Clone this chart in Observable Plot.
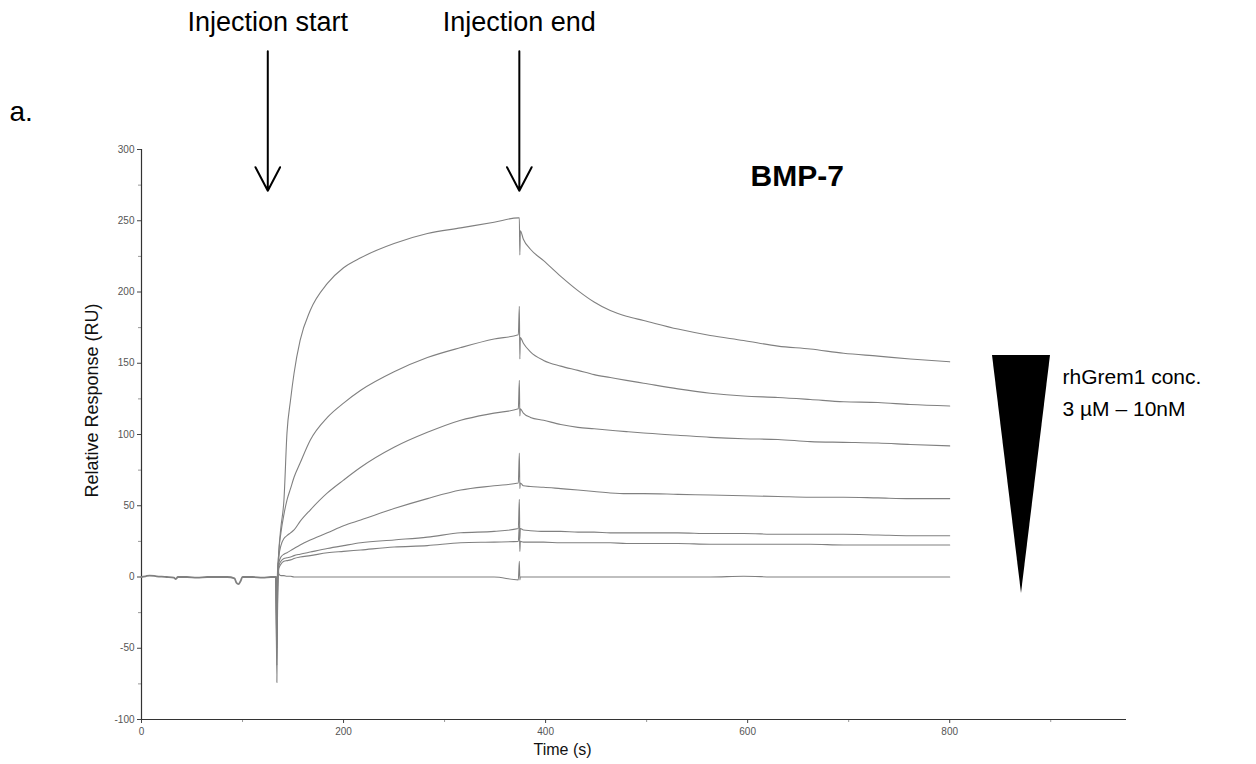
<!DOCTYPE html>
<html>
<head>
<meta charset="utf-8">
<script src="https://cdn.jsdelivr.net/npm/d3@7"></script>
<script src="https://cdn.jsdelivr.net/npm/@observablehq/plot@0.6"></script>
<style>
  body { margin: 0; background: #fff; }
  #chart { width: 1256px; height: 764px; }
</style>
</head>
<body>
<div id="chart"></div>
<script>
// ---------- data ----------
const xTicks = [0, 200, 400, 600, 800];
const xMinorTicks = [100, 300, 500, 700, 900];
const yTicks = [-100, -50, 0, 50, 100, 150, 200, 250, 300];
const yMinorTicks = [-75, -25, 25, 75, 125, 175, 225, 275];

// shared pre-injection baseline (all sensorgrams overlap here)
const baselineTime = [0, 4, 8, 15, 25, 32, 34, 36, 45, 55, 65, 75, 85, 92, 94, 96, 98, 100, 110, 120, 128, 133];
const baselineResponse = [0, 0.5, 1, 0.5, 0, -0.5, -1.5, 0, 0, -0.5, 0, 0, 0, -1, -4, -5, -3, 0, 0, -0.5, 0, 0];

// association phase (injection)
const associationTime = [133, 134, 135, 136, 138, 141, 144, 147.5, 151, 157, 167, 184, 200, 217, 250, 283, 316, 349, 373];
const assoc3uM  = [0, -74, 5, 19, 35, 54, 101, 124, 143, 166, 187, 206, 217, 224, 234, 241, 245, 249, 252];
const assocC2   = [0, -62, 3, 18, 31, 44, 54, 62, 70, 80, 96, 112, 122, 131, 144, 154, 161, 167, 170];
const assocC3   = [0, -50, 2, 14, 22, 27, 29, 31, 33, 39, 47, 59, 68, 77, 91, 101.5, 110, 115, 118];
const assocC4   = [0, -37, 1, 10, 14, 16, 17, 18.5, 20, 22.5, 26, 31, 36, 40, 48, 55, 61, 64, 66];
const assocC5   = [0, -25, 0, 8, 11, 13, 13.5, 14, 15, 16, 17.5, 20, 22, 24, 26, 28, 31, 32, 34];
const assocC6   = [0, -15, 0, 6, 9, 11, 11.5, 12, 13, 14, 15, 17, 18, 19, 21, 22, 24, 24.5, 25];
const assoc10nM = [0, -8, 10, 2, 1, 1, 0.5, 0.5, 0, 0, 0, 0, 0, 0, 0, 0, 0, 0, -2];

// dissociation phase (after injection end)
const dissociationTime = [374, 374.5, 375, 378, 385, 398, 415, 432, 448, 464, 480, 497, 531, 563, 596, 630, 662, 695, 729, 761, 800];
const dissoc3uM  = [252, 226, 243, 237, 230, 222, 211, 201, 193, 187, 183, 180, 174, 169.5, 166, 162, 160, 157, 155, 153, 151];
const dissocC2   = [190, 153, 168, 164, 158, 152, 148, 145, 142, 140, 138, 136, 132, 129, 127, 126, 124.6, 123, 122.5, 121, 120];
const dissocC3   = [138, 113, 118, 115, 112, 110, 107, 105, 104, 103, 102, 101, 99.5, 98, 97, 96.5, 95, 94.5, 94, 93, 92];
const dissocC4   = [87, 62, 66, 64, 63.5, 63, 62, 61, 60, 59, 58.5, 58.5, 58, 57.5, 57, 56.5, 56, 56, 55.5, 55, 55];
const dissocC5   = [54.5, 27, 34, 33, 32.5, 32, 32, 31.5, 31.5, 31, 31, 31, 31, 30.5, 30.5, 30, 30, 30, 29.5, 29, 29];
const dissocC6   = [36, 18, 25, 24.5, 24.5, 24.5, 24, 24, 24, 24, 23.5, 23.5, 23.5, 23, 23, 23, 23, 22.5, 22.5, 22.5, 22.5];
const dissoc10nM = [11, -2, 0, 0, 0, 0, 0, 0, 0, 0, 0, 0, 0, 0, 0.5, 0, 0, 0, 0, 0, 0];

const curveNames = ["3 µM", "c2", "c3", "c4", "c5", "c6", "10nM"];
const associationSets = [assoc3uM, assocC2, assocC3, assocC4, assocC5, assocC6, assoc10nM];
const dissociationSets = [dissoc3uM, dissocC2, dissocC3, dissocC4, dissocC5, dissocC6, dissoc10nM];

const annotationTime = [125, 374];
const annotationLabel = ["Injection start", "Injection end"];

// ---------- build tables ----------
const baseline = baselineTime.map((t, i) => ({t, v: baselineResponse[i]}));
const curves = [];
curveNames.forEach((name, k) => {
  associationTime.forEach((t, i) => curves.push({curve: name, t, v: associationSets[k][i]}));
  dissociationTime.forEach((t, i) => curves.push({curve: name, t, v: dissociationSets[k][i]}));
});
const annotations = annotationTime.map((t, i) => ({t, label: annotationLabel[i]}));

const FONT = "'Liberation Sans', Arial, Helvetica, sans-serif";
const GRAY = "#808080";

const chart = Plot.plot({
  width: 1256,
  height: 764,
  marginLeft: 141,
  marginRight: 130,
  marginTop: 149,
  marginBottom: 45,
  x: {domain: [0, 975]},
  y: {domain: [-100, 300]},
  style: {fontFamily: FONT, background: "#fff", overflow: "visible", color: "#222"},
  marks: [
    Plot.axisX({ticks: xTicks, tickSize: 4, tickPadding: 4, fontSize: 10, label: null, stroke: "#444", fill: "#555", tickFormat: d => `${d}`}),
    Plot.axisX({ticks: xMinorTicks, tickSize: 3, tickFormat: () => "", label: null, stroke: "#999"}),
    Plot.axisY({ticks: yTicks, tickSize: 4, tickPadding: 3, fontSize: 10, label: null, stroke: "#444", fill: "#555", tickFormat: d => `${d}`}),
    Plot.axisY({ticks: yMinorTicks, tickSize: 3, tickFormat: () => "", label: null, stroke: "#999"}),
    Plot.ruleX([0], {stroke: "#333", strokeWidth: 1.2}),
    Plot.ruleY([-100], {stroke: "#333", strokeWidth: 1.2}),
    Plot.line(baseline, {x: "t", y: "v", stroke: GRAY, strokeWidth: 1.8, curve: "monotone-x"}),
    Plot.line(curves, {x: "t", y: "v", z: "curve", stroke: GRAY, strokeWidth: 1.1, curve: "monotone-x"}),
    Plot.arrow(annotations, {
      x1: "t", x2: "t", y1: () => 369, y2: () => 271,
      stroke: "#000", strokeWidth: 2, headLength: 20, headAngle: 55, bend: 0
    }),
    Plot.text(annotations, {x: "t", text: "label", frameAnchor: "top", lineAnchor: "middle", dy: -127, fontSize: 27, fill: "#000"}),
    Plot.text(["Time (s)"], {frameAnchor: "bottom-left", lineAnchor: "middle", dx: 392, dy: 30, fontSize: 16, textAnchor: "start", fill: "#111"}),
    Plot.text(["Relative Response (RU)"], {frameAnchor: "left", dx: -49, dy: -34, rotate: -90, fontSize: 18, textAnchor: "middle", fill: "#111"}),
    Plot.text(["a."], {frameAnchor: "top-left", lineAnchor: "middle", dx: -132, dy: -37, fontSize: 28, textAnchor: "start", fill: "#000"}),
    Plot.text(["BMP-7"], {frameAnchor: "top-left", lineAnchor: "middle", dx: 609, dy: 27, fontSize: 30, fontWeight: "bold", textAnchor: "start", fill: "#000"}),
    Plot.text(["rhGrem1 conc."], {frameAnchor: "top-right", lineAnchor: "middle", dx: -64, dy: 228, fontSize: 21, textAnchor: "start", fill: "#000"}),
    Plot.text([`${curveNames[0]} – ${curveNames[6]}`], {frameAnchor: "top-right", lineAnchor: "middle", dx: -64, dy: 260, fontSize: 21, textAnchor: "start", fill: "#000"})
  ]
});

// concentration wedge glyph (legend decoration) drawn in the right margin
const svg = d3.select(chart);
svg.append("path")
  .attr("d", "M992,355 L1050,355 L1021,593 Z")
  .attr("fill", "#000");

document.getElementById("chart").appendChild(chart);
</script>
</body>
</html>
